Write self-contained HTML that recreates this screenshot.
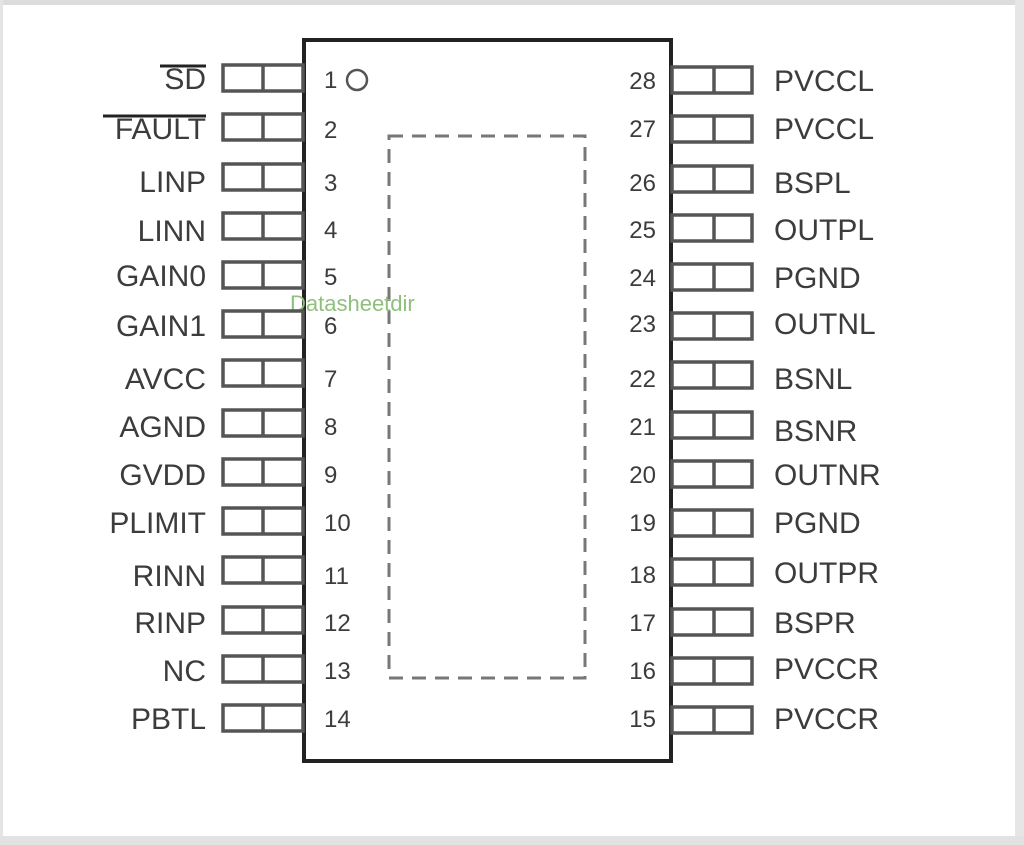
<!DOCTYPE html>
<html><head><meta charset="utf-8"><style>
html,body{margin:0;padding:0;background:#fff;}
svg{display:block;}
text{font-family:"Liberation Sans",sans-serif;fill:#3c3c3c;}
</style></head><body>
<svg width="1024" height="845" viewBox="0 0 1024 845" xmlns="http://www.w3.org/2000/svg">
<rect x="0" y="0" width="1024" height="845" fill="#fff"/>
<rect x="0" y="0" width="1024" height="5" fill="#dcdcdc"/>
<rect x="0" y="0" width="3" height="845" fill="#e4e4e4"/>
<rect x="1015" y="0" width="9" height="845" fill="#e6e6e6"/>
<rect x="0" y="836" width="1024" height="9" fill="#e2e2e2"/>
<rect x="304" y="40" width="367" height="721" fill="#fff" stroke="#222" stroke-width="4"/>
<rect x="389" y="136" width="196" height="542" fill="none" stroke="#777" stroke-width="3" stroke-dasharray="14,9"/>
<circle cx="357" cy="80" r="10" fill="none" stroke="#555" stroke-width="2.5"/>
<text x="290" y="311" font-size="22" style="fill:#8fbf7c">Datasheetdir</text>
<g stroke="#555" stroke-width="3.5" fill="none">
<rect x="223" y="65" width="80" height="26"/><line x1="263" y1="65" x2="263" y2="91"/>
<rect x="223" y="114" width="80" height="26"/><line x1="263" y1="114" x2="263" y2="140"/>
<rect x="223" y="164" width="80" height="26"/><line x1="263" y1="164" x2="263" y2="190"/>
<rect x="223" y="213" width="80" height="26"/><line x1="263" y1="213" x2="263" y2="239"/>
<rect x="223" y="262" width="80" height="26"/><line x1="263" y1="262" x2="263" y2="288"/>
<rect x="223" y="311" width="80" height="26"/><line x1="263" y1="311" x2="263" y2="337"/>
<rect x="223" y="360" width="80" height="26"/><line x1="263" y1="360" x2="263" y2="386"/>
<rect x="223" y="410" width="80" height="26"/><line x1="263" y1="410" x2="263" y2="436"/>
<rect x="223" y="459" width="80" height="26"/><line x1="263" y1="459" x2="263" y2="485"/>
<rect x="223" y="508" width="80" height="26"/><line x1="263" y1="508" x2="263" y2="534"/>
<rect x="223" y="557" width="80" height="26"/><line x1="263" y1="557" x2="263" y2="583"/>
<rect x="223" y="607" width="80" height="26"/><line x1="263" y1="607" x2="263" y2="633"/>
<rect x="223" y="656" width="80" height="26"/><line x1="263" y1="656" x2="263" y2="682"/>
<rect x="223" y="705" width="80" height="26"/><line x1="263" y1="705" x2="263" y2="731"/>
</g>
<g stroke="#555" stroke-width="3.5" fill="none">
<rect x="672" y="67" width="80" height="26"/><line x1="714" y1="67" x2="714" y2="93"/>
<rect x="672" y="116" width="80" height="26"/><line x1="714" y1="116" x2="714" y2="142"/>
<rect x="672" y="166" width="80" height="26"/><line x1="714" y1="166" x2="714" y2="192"/>
<rect x="672" y="215" width="80" height="26"/><line x1="714" y1="215" x2="714" y2="241"/>
<rect x="672" y="264" width="80" height="26"/><line x1="714" y1="264" x2="714" y2="290"/>
<rect x="672" y="313" width="80" height="26"/><line x1="714" y1="313" x2="714" y2="339"/>
<rect x="672" y="362" width="80" height="26"/><line x1="714" y1="362" x2="714" y2="388"/>
<rect x="672" y="412" width="80" height="26"/><line x1="714" y1="412" x2="714" y2="438"/>
<rect x="672" y="461" width="80" height="26"/><line x1="714" y1="461" x2="714" y2="487"/>
<rect x="672" y="510" width="80" height="26"/><line x1="714" y1="510" x2="714" y2="536"/>
<rect x="672" y="559" width="80" height="26"/><line x1="714" y1="559" x2="714" y2="585"/>
<rect x="672" y="609" width="80" height="26"/><line x1="714" y1="609" x2="714" y2="635"/>
<rect x="672" y="658" width="80" height="26"/><line x1="714" y1="658" x2="714" y2="684"/>
<rect x="672" y="707" width="80" height="26"/><line x1="714" y1="707" x2="714" y2="733"/>
</g>
<g font-size="30" text-anchor="end">
<text x="206" y="89">SD</text>
<line x1="160" y1="66" x2="206" y2="66" stroke="#222" stroke-width="3"/>
<text x="206" y="139">FAULT</text>
<line x1="103" y1="116" x2="206" y2="116" stroke="#222" stroke-width="3"/>
<text x="206" y="192">LINP</text>
<text x="206" y="241">LINN</text>
<text x="206" y="286">GAIN0</text>
<text x="206" y="336">GAIN1</text>
<text x="206" y="389">AVCC</text>
<text x="206" y="437">AGND</text>
<text x="206" y="485">GVDD</text>
<text x="206" y="533">PLIMIT</text>
<text x="206" y="586">RINN</text>
<text x="206" y="633">RINP</text>
<text x="206" y="681">NC</text>
<text x="206" y="729">PBTL</text>
</g>
<g font-size="24">
<text x="324" y="88">1</text>
<text x="324" y="138">2</text>
<text x="324" y="191">3</text>
<text x="324" y="238">4</text>
<text x="324" y="285">5</text>
<text x="324" y="334">6</text>
<text x="324" y="387">7</text>
<text x="324" y="435">8</text>
<text x="324" y="483">9</text>
<text x="324" y="531">10</text>
<text x="324" y="584">11</text>
<text x="324" y="631">12</text>
<text x="324" y="679">13</text>
<text x="324" y="727">14</text>
</g>
<g font-size="24" text-anchor="end">
<text x="656" y="89">28</text>
<text x="656" y="137">27</text>
<text x="656" y="191">26</text>
<text x="656" y="238">25</text>
<text x="656" y="286">24</text>
<text x="656" y="332">23</text>
<text x="656" y="387">22</text>
<text x="656" y="435">21</text>
<text x="656" y="483">20</text>
<text x="656" y="531">19</text>
<text x="656" y="583">18</text>
<text x="656" y="631">17</text>
<text x="656" y="679">16</text>
<text x="656" y="727">15</text>
</g>
<g font-size="30">
<text x="774" y="91">PVCCL</text>
<text x="774" y="139">PVCCL</text>
<text x="774" y="193">BSPL</text>
<text x="774" y="240">OUTPL</text>
<text x="774" y="288">PGND</text>
<text x="774" y="334">OUTNL</text>
<text x="774" y="389">BSNL</text>
<text x="774" y="441">BSNR</text>
<text x="774" y="485">OUTNR</text>
<text x="774" y="533">PGND</text>
<text x="774" y="583">OUTPR</text>
<text x="774" y="633">BSPR</text>
<text x="774" y="679">PVCCR</text>
<text x="774" y="729">PVCCR</text>
</g>
</svg>
</body></html>
